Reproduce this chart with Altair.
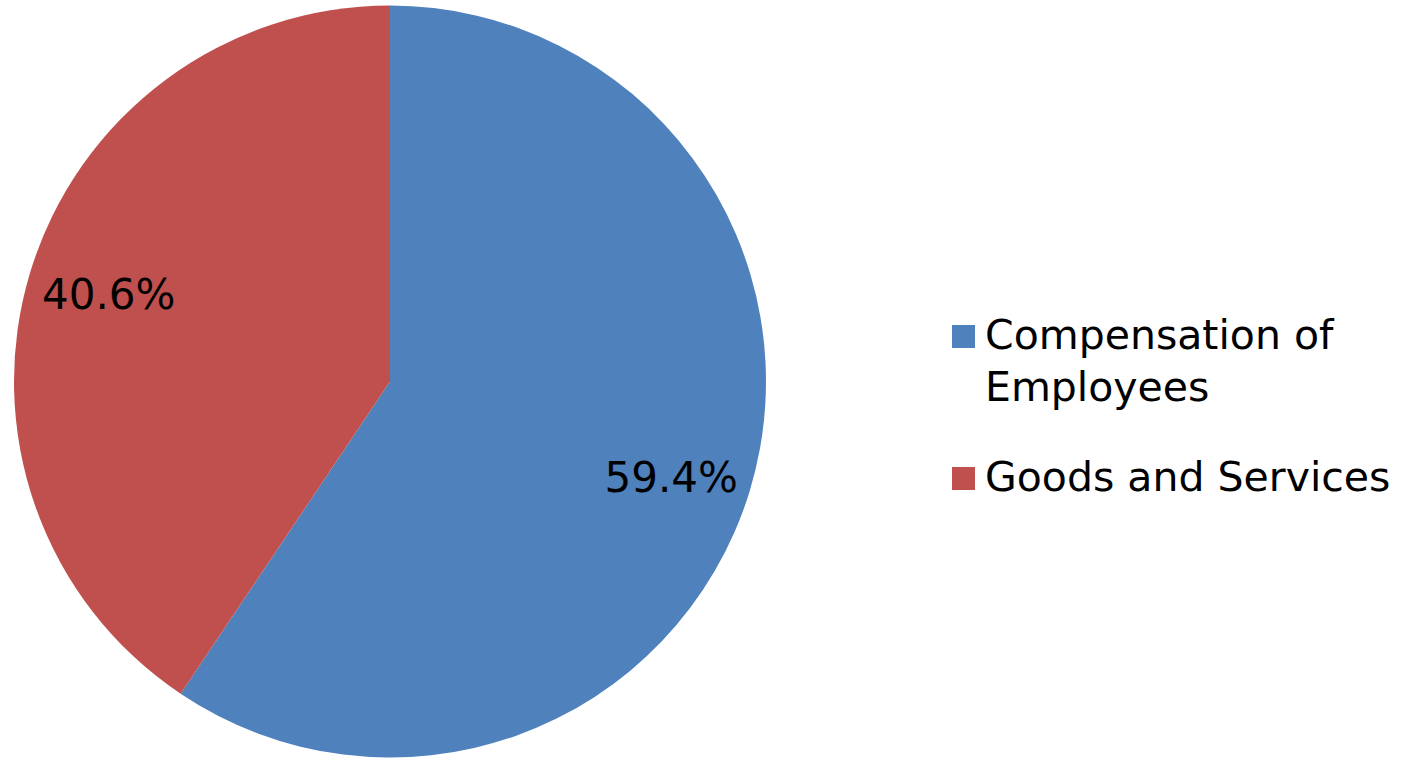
import altair as alt
import pandas as pd

categories = ["Compensation of Employees", "Goods and Services"]
shares = [59.4, 40.6]
labels = ["59.4%", "40.6%"]
colors = ["#4F81BD", "#C0504D"]

df = pd.DataFrame({"category": categories, "share": shares, "label": labels,
                   "order": [0, 1]})

FONT = "DejaVu Sans"

color = alt.Color(
    "category:N",
    scale=alt.Scale(domain=categories, range=colors),
    legend=alt.Legend(
        title=None,
        orient="none",
        legendX=943,
        legendY=316,
        symbolType="square",
        symbolSize=529,
        symbolStrokeWidth=0,
        labelFont=FONT,
        labelFontSize=41,
        labelOffset=1,
        labelLimit=600,
        labelExpr="datum.label == 'Compensation of Employees' ? ['Compensation of', 'Employees'] : datum.label",
        rowPadding=48,
        padding=0,
        labelBaseline="middle",
    ),
)

arc = alt.Chart(df).mark_arc(outerRadius=376, stroke=None).encode(
    theta=alt.Theta("share:Q", stack=True),
    order=alt.Order("order:Q"),
    color=color,
)

stacked = alt.Chart(df).transform_stack(
    stack="share", as_=["s0", "s1"], groupby=[], sort=[alt.SortField("order")]
).transform_calculate(mid="(datum.s0 + datum.s1) / 2")

theta_mid = alt.Theta("mid:Q", scale=alt.Scale(domain=[0, 100]))

text_a = stacked.transform_filter(alt.datum.order == 0).mark_text(
    radius=294, font=FONT, fontSize=42, color="black", dy=12
).encode(theta=theta_mid, text="label:N")
text_b = stacked.transform_filter(alt.datum.order == 1).mark_text(
    radius=294, font=FONT, fontSize=42, color="black"
).encode(theta=theta_mid, text="label:N")

chart = alt.layer(arc, text_a, text_b).properties(
    width=780, height=763, padding=0
).configure_view(stroke=None).configure(style={"guide-label": {"lineHeight": 52}})

chart.save("out.html", embed_options={"renderer": "svg", "actions": False})
